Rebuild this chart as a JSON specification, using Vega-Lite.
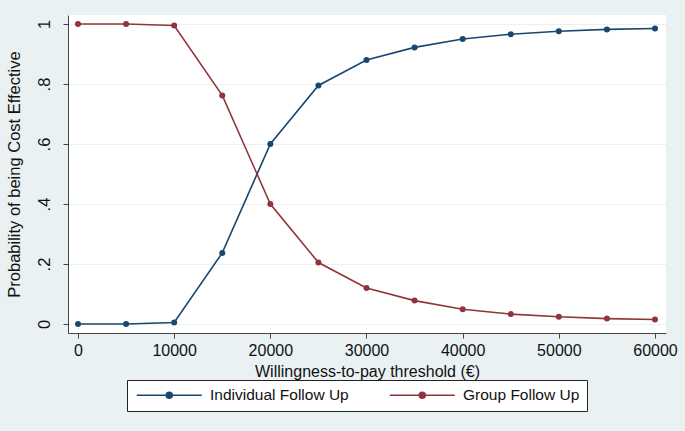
{
  "$schema": "https://vega.github.io/schema/vega-lite/v6.json",
  "autosize": {"type": "none"},
  "width": 598,
  "height": 318,
  "padding": {"left": 68, "top": 15, "right": 19, "bottom": 98},
  "background": "#EAF1F3",
  "config": {
    "font": "Liberation Sans",
    "view": {"fill": "white", "stroke": null}
  },
  "data": {
    "values": [
      {"wtp": 0, "prob": 0.0, "group": "Individual Follow Up"},
      {"wtp": 5000, "prob": 0.0, "group": "Individual Follow Up"},
      {"wtp": 10000, "prob": 0.005, "group": "Individual Follow Up"},
      {"wtp": 15000, "prob": 0.237, "group": "Individual Follow Up"},
      {"wtp": 20000, "prob": 0.6, "group": "Individual Follow Up"},
      {"wtp": 25000, "prob": 0.795, "group": "Individual Follow Up"},
      {"wtp": 30000, "prob": 0.88, "group": "Individual Follow Up"},
      {"wtp": 35000, "prob": 0.922, "group": "Individual Follow Up"},
      {"wtp": 40000, "prob": 0.95, "group": "Individual Follow Up"},
      {"wtp": 45000, "prob": 0.966, "group": "Individual Follow Up"},
      {"wtp": 50000, "prob": 0.976, "group": "Individual Follow Up"},
      {"wtp": 55000, "prob": 0.982, "group": "Individual Follow Up"},
      {"wtp": 60000, "prob": 0.985, "group": "Individual Follow Up"},
      {"wtp": 0, "prob": 1.0, "group": "Group Follow Up"},
      {"wtp": 5000, "prob": 1.0, "group": "Group Follow Up"},
      {"wtp": 10000, "prob": 0.995, "group": "Group Follow Up"},
      {"wtp": 15000, "prob": 0.762, "group": "Group Follow Up"},
      {"wtp": 20000, "prob": 0.4, "group": "Group Follow Up"},
      {"wtp": 25000, "prob": 0.205, "group": "Group Follow Up"},
      {"wtp": 30000, "prob": 0.12, "group": "Group Follow Up"},
      {"wtp": 35000, "prob": 0.078, "group": "Group Follow Up"},
      {"wtp": 40000, "prob": 0.049, "group": "Group Follow Up"},
      {"wtp": 45000, "prob": 0.033, "group": "Group Follow Up"},
      {"wtp": 50000, "prob": 0.024, "group": "Group Follow Up"},
      {"wtp": 55000, "prob": 0.018, "group": "Group Follow Up"},
      {"wtp": 60000, "prob": 0.015, "group": "Group Follow Up"}
    ]
  },
  "mark": {"type": "line", "strokeWidth": 1.6, "point": {"filled": true, "size": 36}},
  "encoding": {
    "x": {
      "field": "wtp", "type": "quantitative",
      "scale": {"domain": [-1040, 61144], "nice": false, "zero": false},
      "axis": {
        "values": [0, 10000, 20000, 30000, 40000, 50000, 60000],
        "format": "d",
        "title": "Willingness-to-pay threshold (€)",
        "grid": false,
        "domainColor": "#444", "tickColor": "#444", "tickSize": 5,
        "labelFontSize": 16, "labelColor": "#111", "labelPadding": 4,
        "titleFontSize": 16, "titleFontWeight": "normal", "titleColor": "#111", "titlePadding": 5
      }
    },
    "y": {
      "field": "prob", "type": "quantitative",
      "scale": {"domain": [-0.03, 1.03], "nice": false, "zero": false},
      "axis": {
        "values": [0, 0.2, 0.4, 0.6, 0.8, 1],
        "labelExpr": "datum.value == 0 ? '0' : datum.value == 1 ? '1' : replace(format(datum.value, '.1f'), '0.', '.')",
        "title": "Probability of being Cost Effective",
        "grid": true, "gridColor": "#EAF1F3", "gridWidth": 1.2,
        "domainColor": "#444", "tickColor": "#444", "tickSize": 5,
        "labelAngle": 270, "labelAlign": "center", "labelBaseline": "bottom",
        "labelFontSize": 16.5, "labelColor": "#111", "labelPadding": 11,
        "titleFontSize": 16.5, "titleFontWeight": "normal", "titleColor": "#111", "titlePadding": 14
      }
    },
    "color": {
      "field": "group", "type": "nominal",
      "scale": {"domain": ["Individual Follow Up", "Group Follow Up"], "range": ["#1A476F", "#90353B"]},
      "legend": {
        "title": null,
        "orient": "none",
        "legendX": 59,
        "legendY": 365,
        "direction": "horizontal",
        "columns": 2,
        "gridAlign": "all",
        "columnPadding": 37,
        "fillColor": "white",
        "strokeColor": "#222",
        "padding": 7,
        "labelFontSize": 15.5,
        "labelColor": "#111",
        "labelOffset": 33,
        "symbolType": "M-6.5,0L6.5,0M-0.6,0A0.6,0.6,0,1,1,0.6,0A0.6,0.6,0,1,1,-0.6,0Z",
        "symbolSize": 100,
        "symbolOffset": 27.5,
        "symbolStrokeWidth": 1.5,
        "encode": {
          "legend": {"update": {"width": {"value": 480}}},
          "symbols": {"update": {"fill": {"scale": "color", "field": "value"}, "stroke": {"scale": "color", "field": "value"}}}
        }
      }
    }
  }
}
